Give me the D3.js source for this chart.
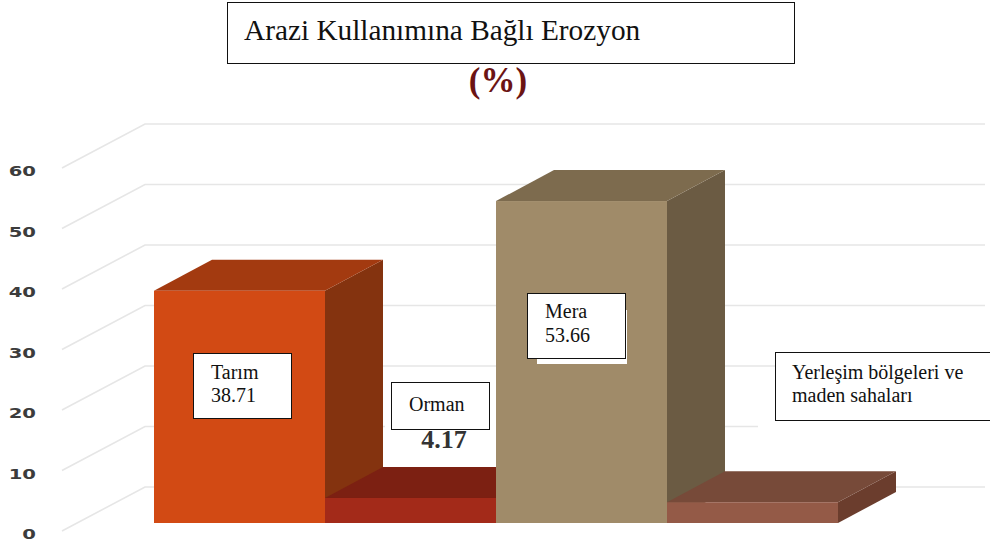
<!DOCTYPE html>
<html><head><meta charset="utf-8">
<style>html,body{margin:0;padding:0;background:#fff}svg{display:block}</style>
<script src="https://cdnjs.cloudflare.com/ajax/libs/d3/7.8.5/d3.min.js"></script>
</head><body><svg id="c" width="990" height="544"></svg>
<script>
const categories = ["Tarım", "Orman", "Mera", "Yerleşim bölgeleri ve maden sahaları"];
const values = [38.71, 4.17, 53.66, 3.46];
const frontColors = ["#d24a14", "#a32a19", "#a08b69", "#945a47"];
const topColors = ["#a33a10", "#7c2012", "#7d6b4e", "#774a39"];
const sideColors = ["#84330f", "#6e1c10", "#6b5b43", "#6b3d2d"];
const tickValues = [0, 10, 20, 30, 40, 50, 60];

const svg = d3.select("#c");
const x = d3.scaleBand().domain(categories).range([154, 838]);
const y = d3.scaleLinear().domain([0, 60]).range([523, 163]);
const wall = d3.scaleLinear().domain([0, 60]).range([531, 168]);
const depth = {dx: 58, dy: -31}, floor = {dx: 83, dy: -44};
const line = d3.line();

// grid
const grid = svg.append("g").attr("fill", "none").attr("stroke", "#e6e6e6").attr("stroke-width", 1.6);
tickValues.forEach(v => {
  const yy = wall(v);
  grid.append("path").attr("d", line([[62, yy], [62 + floor.dx, yy + floor.dy], [v === 10 ? 758 : 985, yy + floor.dy]]));
});

// tick labels
svg.append("g").selectAll("text").data(tickValues).join("text")
  .attr("transform", d => `translate(36,${wall(d) + 4}) scale(1.4,1)`)
  .attr("text-anchor", "end").attr("dominant-baseline", "middle")
  .attr("font-family", "DejaVu Sans").attr("font-weight", "bold").attr("font-size", 14).attr("fill", "#3c3c3c")
  .text(d => d);

// white patch behind the 4.17 label
svg.append("rect").attr("x", x(categories[1]) + 60).attr("y", wall(10) - 60).attr("width", 112).attr("height", 68).attr("fill", "#fff");

// bars
const bars = svg.append("g").selectAll("g").data(categories).join("g");
const w = x.bandwidth();
bars.append("path").attr("fill", (d, i) => sideColors[i]).attr("d", (d, i) => {
  const r = x(d) + w, t = y(values[i]), b = y(0);
  return line([[r, t], [r + depth.dx, t + depth.dy], [r + depth.dx, b + depth.dy], [r, b]]) + "Z";
});
bars.append("path").attr("fill", (d, i) => topColors[i]).attr("d", (d, i) => {
  const l = x(d), r = l + w, t = y(values[i]);
  return line([[l, t], [l + depth.dx, t + depth.dy], [r + depth.dx, t + depth.dy], [r, t]]) + "Z";
});
bars.append("rect").attr("x", d => x(d)).attr("width", w)
  .attr("y", (d, i) => y(values[i])).attr("height", (d, i) => y(0) - y(values[i]))
  .attr("fill", (d, i) => frontColors[i]);

// white patch behind Mera label
svg.append("rect").attr("x", 537).attr("y", 310).attr("width", 90).attr("height", 54).attr("fill", "#fff");

function box(bx, by, bw, bh, lines, tx, size, firstY, lh) {
  svg.append("rect").attr("x", bx + .5).attr("y", by + .5).attr("width", bw).attr("height", bh)
    .attr("fill", "#fff").attr("stroke", "#111").attr("stroke-width", 1);
  lines.forEach((s, i) => svg.append("text").attr("x", tx).attr("y", firstY + i * lh)
    .attr("font-family", "Liberation Serif").attr("font-size", size).attr("fill", "#111").text(s));
}
box(227, 2, 567, 61, ["Arazi Kullanımına Bağlı Erozyon"], 244, 29.3, 40, 0);
box(193, 353, 98, 65, [categories[0], values[0].toFixed(2)], 211, 20, 379, 23);
box(391, 382, 98, 47, [categories[1]], 409, 20, 411, 0);
box(527, 293, 98, 65, [categories[2], values[2].toFixed(2)], 545, 20, 318, 24);
box(775, 352, 216, 68, ["Yerleşim bölgeleri ve", "maden sahaları"], 792, 20, 379, 23);

svg.append("text").attr("x", 444).attr("y", 448).attr("text-anchor", "middle")
  .attr("font-family", "Liberation Serif").attr("font-weight", "bold").attr("font-size", 26).attr("fill", "#333")
  .text(values[1].toFixed(2));
svg.append("text").attr("x", 498).attr("y", 92).attr("text-anchor", "middle")
  .attr("font-family", "Liberation Serif").attr("font-weight", "bold").attr("font-size", 35).attr("fill", "#6b1414")
  .text("(%)");
</script></body></html>
